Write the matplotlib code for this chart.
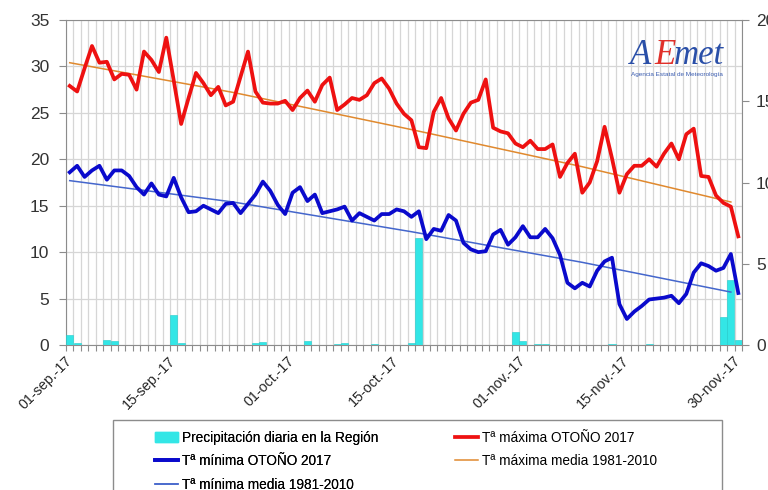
import matplotlib
matplotlib.use('Agg')
import matplotlib.pyplot as plt
from matplotlib.patches import Patch, Rectangle

# Datos diarios del otoño 2017 (01-sep a 30-nov)
tmax = [27.9, 27.3, 29.8, 32.2, 30.4, 30.5, 28.6, 29.2, 29.1, 27.5,
        31.6, 30.7, 29.4, 33.1, 28.5, 23.8, 26.6, 29.3, 28.2, 26.9,
        27.8, 25.8, 26.2, 28.9, 31.6, 27.3, 26.1, 26.0, 26.0, 26.3,
        25.3, 26.6, 27.4, 26.2, 28.0, 28.8, 25.3, 25.9, 26.6, 26.4,
        26.9, 28.2, 28.7, 27.6, 26.0, 24.9, 24.2, 21.3, 21.2, 25.1,
        26.6, 24.4, 23.1, 24.9, 26.1, 26.4, 28.6, 23.4, 23.0, 22.8,
        21.7, 21.3, 22.0, 21.1, 21.1, 21.6, 18.1, 19.6, 20.6, 16.4,
        17.5, 19.8, 23.5, 20.1, 16.4, 18.4, 19.3, 19.3, 20.0, 19.2,
        20.6, 21.7, 20.0, 22.7, 23.3, 18.2, 18.1, 16.1, 15.3, 14.9,
        11.7]

tmin = [18.6, 19.3, 18.1, 18.8, 19.3, 17.8, 18.8, 18.8, 18.2, 17.0,
        16.2, 17.4, 16.2, 16.0, 18.0, 15.9, 14.3, 14.4, 15.0, 14.6,
        14.2, 15.2, 15.3, 14.2, 15.2, 16.2, 17.6, 16.6, 15.1, 14.1,
        16.4, 17.0, 15.5, 16.2, 14.2, 14.4, 14.6, 14.9, 13.4, 14.2,
        13.8, 13.4, 14.1, 14.1, 14.6, 14.4, 13.8, 14.4, 11.4, 12.5,
        12.3, 14.0, 13.4, 11.0, 10.3, 10.0, 10.1, 11.9, 12.4, 10.8,
        11.6, 12.8, 11.6, 11.6, 12.5, 11.5, 9.7, 6.7, 6.1, 6.7,
        6.3, 8.0, 9.0, 9.4, 4.4, 2.8, 3.6, 4.2, 4.9, 5.0,
        5.1, 5.3, 4.5, 5.5, 7.8, 8.8, 8.5, 8.0, 8.3, 9.8,
        5.6]

precip = [0.6, 0.1, 0, 0, 0, 0.3, 0.25, 0, 0, 0,
          0, 0, 0, 0, 1.85, 0.1, 0, 0, 0, 0,
          0, 0, 0, 0, 0, 0.1, 0.2, 0, 0, 0,
          0, 0, 0.25, 0, 0, 0, 0.05, 0.1, 0, 0,
          0, 0.05, 0, 0, 0, 0, 0.15, 6.6, 0, 0,
          0, 0, 0, 0, 0, 0, 0, 0, 0, 0,
          0.8, 0.25, 0, 0.05, 0.05, 0, 0, 0, 0, 0,
          0, 0, 0, 0.05, 0, 0, 0, 0, 0.05, 0,
          0, 0, 0, 0, 0, 0, 0, 0, 1.75, 4.0,
          0.3]

# Normales 1981-2010 (puntos leídos a lo largo de la curva)
normal_dias = [0, 22, 46, 69, 89]
normal_max = [30.4, 27.2, 23.2, 19.2, 15.4]
normal_min = [17.7, 15.4, 12.2, 8.9, 5.7]

tick_dias = [0, 14, 30, 44, 61, 75, 90]
tick_labels = ['01-sep.-17', '15-sep.-17', '01-oct.-17', '15-oct.-17',
               '01-nov.-17', '15-nov.-17', '30-nov.-17']

dias = list(range(len(tmax)))

gris = '#8c8c8c'
cian = '#33e6e6'
narrow = ['Liberation Sans Narrow', 'Liberation Sans', 'DejaVu Sans']

plt.rcParams['font.family'] = ['Liberation Sans', 'DejaVu Sans']

fig = plt.figure(figsize=(7.68, 4.9), dpi=100)
ax = fig.add_axes([66 / 768, 1 - 345 / 490, (742 - 66) / 768, (345 - 20) / 490])

# Eje principal: rejilla y temperaturas
ax.set_xlim(-0.5, 90.5)
ax.set_ylim(0, 35)
ax.set_yticks(range(0, 36, 5))
ax.set_xticks(tick_dias)
ax.set_xticklabels(tick_labels, rotation=45, ha='right', va='center',
                   rotation_mode='anchor', family=narrow, fontsize=10.3)
ax.set_xticks([d - 0.5 for d in range(len(dias) + 1)], minor=True)
ax.grid(True, which='minor', axis='x', color='#d6d6d6', lw=0.9)
ax.grid(True, which='major', axis='y', color='#d6d6d6', lw=0.9)
ax.tick_params(axis='x', which='major', length=0, pad=10, labelcolor='#262626')
ax.tick_params(axis='x', which='minor', length=4, color=gris, width=0.8)
ax.tick_params(axis='y', length=5, color=gris, pad=7, labelsize=12.5,
               labelcolor='#333333')
for s in ax.spines.values():
    s.set_color(gris)
ax.spines['right'].set_visible(False)

# Eje secundario: precipitación
ax2 = ax.twinx()
ax2.bar(dias, precip, width=0.95, color=cian, edgecolor='#22cccc', lw=0.4)
ax2.set_ylim(0, 20)
ax2.set_yticks(range(0, 21, 5))
ax2.tick_params(axis='y', length=5, color=gris, pad=5, labelsize=12.5,
                labelcolor='#333333')
for s in ax2.spines.values():
    s.set_visible(False)
ax2.spines['right'].set_visible(True)
ax2.spines['right'].set_color(gris)

# Tercer eje (misma escala que el principal) para dibujar las líneas encima
ax3 = ax.twinx()
ax3.set_ylim(0, 35)
ax3.set_axis_off()
l_nmax, = ax3.plot(normal_dias, normal_max, color='#e0892e', lw=1.1)
l_nmin, = ax3.plot(normal_dias, normal_min, color='#4466cc', lw=1.1)
l_max, = ax3.plot(dias, tmax, color='#ee1111', lw=2.7, solid_joinstyle='round')
l_min, = ax3.plot(dias, tmin, color='#0a0acc', lw=2.7, solid_joinstyle='round')

# Leyenda (dos columnas) con marco propio
h_pr = Patch(facecolor=cian, edgecolor=cian)
leg_kw = dict(loc='upper left', frameon=False, borderpad=0, borderaxespad=0,
              handlelength=1.7, handletextpad=0.3, labelspacing=0.68,
              prop={'family': narrow, 'size': 9.8})
leg1 = fig.legend([h_pr, l_min, l_nmin],
                  ['Precipitación diaria en la Región', 'Tª mínima OTOÑO 2017',
                   'Tª mínima media 1981-2010'],
                  bbox_to_anchor=(155 / 768, 1 - 431 / 490), **leg_kw)
leg2 = fig.legend([l_max, l_nmax],
                  ['Tª máxima OTOÑO 2017', 'Tª máxima media 1981-2010'],
                  bbox_to_anchor=(455 / 768, 1 - 431 / 490), **leg_kw)
fig.add_artist(leg1)
fig.add_artist(Rectangle((113 / 768, -0.1), (722 - 113) / 768, 0.1 + (1 - 420 / 490),
                         transform=fig.transFigure, fill=False, edgecolor=gris, lw=1))

# Logotipo AEMET
fig.text(630 / 768, 1 - 64 / 490, 'A', color='#2a4fa8', fontsize=25,
         style='italic', family='Liberation Serif')
fig.text(654 / 768, 1 - 64 / 490, 'E', color='#e0302a', fontsize=25,
         style='italic', family='Liberation Serif')
fig.text(674 / 768, 1 - 64 / 490, 'met', color='#2a4fa8', fontsize=25,
         style='italic', family='Liberation Serif')
fig.text(631 / 768, 1 - 76 / 490, 'Agencia Estatal de Meteorología',
         color='#3a5cb0', fontsize=4.6)

fig.savefig('out.png', dpi=100)
